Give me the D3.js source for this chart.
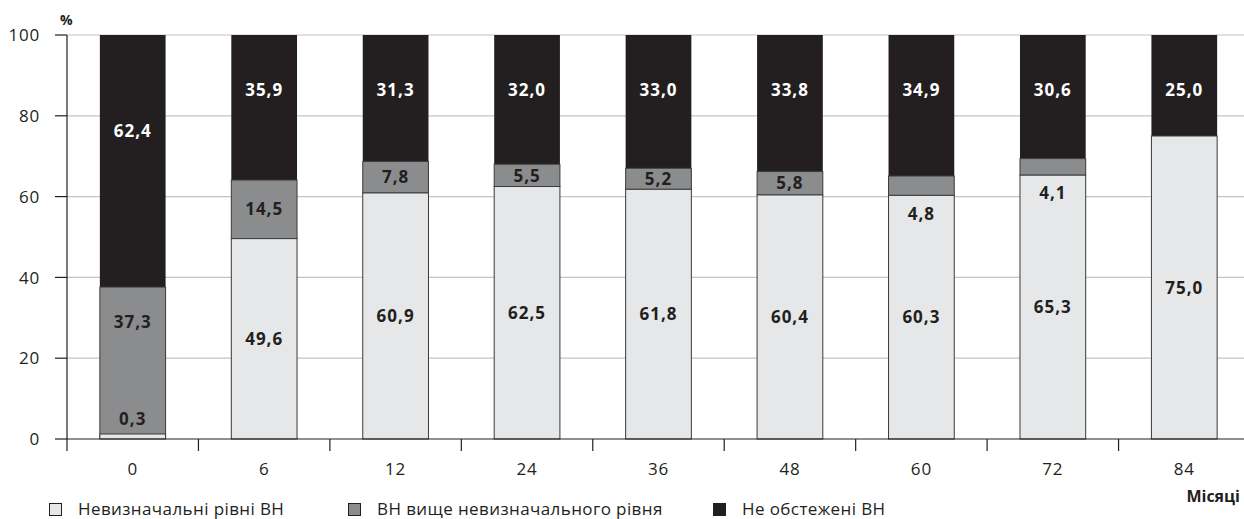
<!DOCTYPE html>
<html>
<head>
<meta charset="utf-8">
<script src="https://cdn.jsdelivr.net/npm/d3@7"></script>
<style>
  html, body { margin: 0; padding: 0; background: #fff; }
  svg { display: block; font-family: "Open Sans", "Noto Sans", sans-serif; }
</style>
</head>
<body>
<svg id="chart" width="1244" height="519"></svg>
<script>
// Months of follow-up
const months = ["0", "6", "12", "24", "36", "48", "60", "72", "84"];
// Share of patients, %
const undetectable = [0.3, 49.6, 60.9, 62.5, 61.8, 60.4, 60.3, 65.3, 75.0];
const aboveUndetectable = [37.3, 14.5, 7.8, 5.5, 5.2, 5.8, 4.8, 4.1, 0];
const notTested = [62.4, 35.9, 31.3, 32.0, 33.0, 33.8, 34.9, 30.6, 25.0];
const yTicks = [0, 20, 40, 60, 80, 100];
const seriesNames = ["Невизначальні рівні ВН", "ВН вище невизначального рівня", "Не обстежені ВН"];

const fills = ["#e6e7e8", "#8b8c8e", "#231f20"];
const textFill = ["#231f20", "#231f20", "#ffffff"];

const svg = d3.select("#chart");
const plotLeft = 67, plotTop = 35, plotBottom = 439;

const x = d3.scaleBand().domain(months).range([plotLeft, 1250]).paddingInner(0.5).paddingOuter(0.25);
const y = d3.scaleLinear().domain([0, 100]).range([plotBottom, plotTop]);

// grid
svg.append("g").selectAll("line").data(yTicks.filter(d => d > 0)).join("line")
  .attr("x1", plotLeft).attr("x2", 1244)
  .attr("y1", d => y(d)).attr("y2", d => y(d))
  .attr("stroke", "#c4c4c4").attr("stroke-width", 1.2);

// stacked data
const rows = months.map((m, i) => ({ m, v: [undetectable[i], aboveUndetectable[i], notTested[i]] }));
const stack = d3.stack().keys([0, 1, 2]).value((d, k) => d.v[k]);
const layers = stack(rows);

// bars: upper layers first so a thin lower segment stays visible on top
const g = svg.append("g");
[2, 1, 0].forEach(k => {
  const layer = layers[k];
  g.selectAll(null).data(layer.filter(d => d[1] - d[0] > 0)).join("rect")
    .attr("x", d => x(d.data.m))
    .attr("width", x.bandwidth())
    .attr("y", d => Math.min(y(d[1]), y(d[0]) - 5))
    .attr("height", d => Math.max(y(d[0]) - y(d[1]), 5))
    .attr("fill", fills[k])
    .attr("stroke", k === 2 ? "none" : "#3a3a3a")
    .attr("stroke-width", k === 2 ? 0 : 1);
});

// value labels
const fmt = v => v.toFixed(1).replace(".", ",");
layers.forEach((layer, k) => {
  layer.forEach(d => {
    const seg = d[1] - d[0];
    if (seg <= 0) return;
    let pos;
    if (k === 2) {
      pos = 100 - Math.max(seg * 0.38, 13.5);
    } else if (seg < 1) {
      pos = d[1] + 4.8;          // tiny bottom segment: label sits above it
    } else if (seg < 5) {
      pos = d[0] - 4.5;          // thin middle segment: label sits just below it
    } else if (k === 1) {
      pos = d[1] - Math.min(seg / 2, 8.6);
    } else {
      pos = (d[0] + d[1]) / 2;
    }
    const tone = (k === 2) ? 2 : (seg < 5 && k === 1 ? 0 : k);
    g.append("text")
      .attr("x", x(d.data.m) + x.bandwidth() / 2)
      .attr("y", y(pos))
      .attr("dy", "0.36em")
      .attr("text-anchor", "middle")
      .attr("font-size", 17)
      .attr("font-weight", 700)
      .attr("letter-spacing", 1)
      .attr("fill", textFill[tone])
      .text(fmt(d.data.v[k]));
  });
});

// y axis
const ya = svg.append("g");
ya.append("line").attr("x1", plotLeft).attr("x2", plotLeft).attr("y1", plotTop).attr("y2", plotBottom + 12)
  .attr("stroke", "#231f20").attr("stroke-width", 1.2);
ya.selectAll(".t").data(yTicks).join("line")
  .attr("class", "t")
  .attr("x1", plotLeft - 12).attr("x2", plotLeft)
  .attr("y1", d => y(d)).attr("y2", d => y(d))
  .attr("stroke", "#231f20").attr("stroke-width", 1.2);
ya.selectAll("text").data(yTicks).join("text")
  .attr("x", 40).attr("y", d => y(d)).attr("dy", "0.36em")
  .attr("text-anchor", "end").attr("font-size", 17).attr("letter-spacing", 0.8).attr("fill", "#231f20")
  .text(d => d);
svg.append("text").attr("x", 60).attr("y", 25).attr("font-size", 14).attr("font-weight", 700)
  .attr("fill", "#231f20").text("%");

// x axis
const xa = svg.append("g");
xa.append("line").attr("x1", plotLeft).attr("x2", 1244).attr("y1", plotBottom).attr("y2", plotBottom)
  .attr("stroke", "#231f20").attr("stroke-width", 1.2);
xa.selectAll("line.tk").data(months.slice(1)).join("line")
  .attr("class", "tk")
  .attr("x1", d => x(d) - x.step() * x.paddingInner() / 2)
  .attr("x2", d => x(d) - x.step() * x.paddingInner() / 2)
  .attr("y1", plotBottom).attr("y2", plotBottom + 12)
  .attr("stroke", "#231f20").attr("stroke-width", 1.2);
xa.selectAll("text").data(months).join("text")
  .attr("x", d => x(d) + x.bandwidth() / 2).attr("y", 469).attr("dy", "0.36em")
  .attr("text-anchor", "middle").attr("font-size", 17).attr("letter-spacing", 0.8).attr("fill", "#231f20")
  .text(d => d);
svg.append("text").attr("x", 1240).attr("y", 502).attr("text-anchor", "end")
  .attr("font-size", 16).attr("font-weight", 700).attr("fill", "#231f20").text("Місяці");

// legend
const legendX = [49, 348, 713];
const lg = svg.append("g");
seriesNames.forEach((name, k) => {
  lg.append("rect").attr("x", legendX[k] + 0.5).attr("y", 503.5).attr("width", 12).attr("height", 12)
    .attr("fill", fills[k]).attr("stroke", "#231f20").attr("stroke-width", 1);
  lg.append("text").attr("x", legendX[k] + 29).attr("y", 509).attr("dy", "0.36em")
    .attr("font-size", 17).attr("letter-spacing", 0.4).attr("fill", "#231f20").text(name);
});
</script>
</body>
</html>
